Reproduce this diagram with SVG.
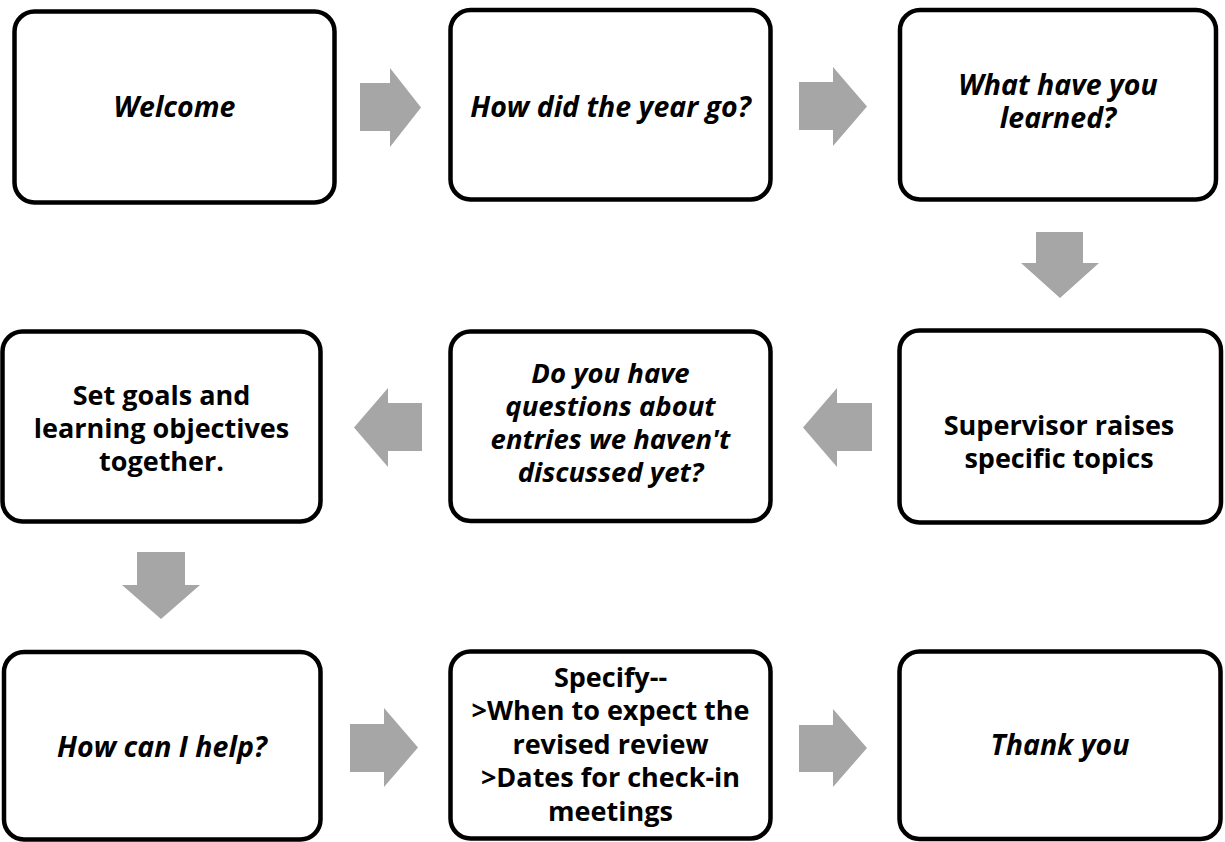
<svg xmlns="http://www.w3.org/2000/svg" width="1225" height="842" viewBox="0 0 1225 842">
  <style>
    .box { fill: #ffffff; stroke: #000000; stroke-width: 4.5; }
    .arrow { fill: #a6a6a6; stroke: none; }
    .lbl { font-family: "Open Sans", Lato, "Liberation Sans", sans-serif; font-size: 27px; font-weight: bold; fill: #000000; text-anchor: middle; }
    .q { font-style: italic; font-size: 28.5px; }
    .q.sm { font-size: 27.5px; }
  </style>
  <rect width="1225" height="842" fill="#ffffff"/>

  <!-- block arrows between steps -->
  <g id="connectors">
    <polygon class="arrow" points="360,83 390,83 390,68 421,107.5 390,147 390,131 360,131"/>
    <polygon class="arrow" points="799,82 833,82 833,67 867,106.5 833,146 833,130 799,130"/>
    <polygon class="arrow" points="1036,232 1083,232 1083,263 1099,263 1060,298 1021,263 1036,263"/>
    <polygon class="arrow" points="872,403 837,403 837,388 803,427.5 837,467 837,451 872,451"/>
    <polygon class="arrow" points="422,403 388,403 388,388 354,427.5 388,467 388,451 422,451"/>
    <polygon class="arrow" points="137,552 185,552 185,585 200,585 161,619 122,585 137,585"/>
    <polygon class="arrow" points="350,724 384,724 384,708 418,747.5 384,787 384,772 350,772"/>
    <polygon class="arrow" points="799,725 833,725 833,709 867,748 833,787 833,772 799,772"/>
  </g>

  <!-- row 1 -->
  <g id="welcome">
    <rect class="box" x="14.5" y="11.5" width="320" height="191" rx="20"/>
    <text class="lbl q" x="174.5" y="117">Welcome</text>
  </g>
  <g id="year">
    <rect class="box" x="450.5" y="10" width="320" height="189.5" rx="20"/>
    <text class="lbl q" x="610.5" y="116.5">How did the year go?</text>
  </g>
  <g id="learned">
    <rect class="box" x="900" y="10" width="316" height="189.5" rx="20"/>
    <text class="lbl q" x="1058" y="95">What have you</text>
    <text class="lbl q" x="1058" y="128">learned?</text>
  </g>

  <!-- row 2 -->
  <g id="topics">
    <rect class="box" x="899.5" y="330.5" width="321.5" height="192" rx="20"/>
    <text class="lbl" x="1059" y="435">Supervisor raises</text>
    <text class="lbl" x="1059" y="468">specific topics</text>
  </g>
  <g id="entries">
    <rect class="box" x="450.5" y="331.5" width="320" height="189.5" rx="20"/>
    <text class="lbl q sm" x="610.5" y="383">Do you have</text>
    <text class="lbl q sm" x="610.5" y="416">questions about</text>
    <text class="lbl q sm" x="610.5" y="449">entries we haven't</text>
    <text class="lbl q sm" x="610.5" y="482">discussed yet?</text>
  </g>
  <g id="goals">
    <rect class="box" x="2.5" y="331.5" width="318" height="190" rx="20"/>
    <text class="lbl" x="161.5" y="405">Set goals and</text>
    <text class="lbl" x="161.5" y="438">learning objectives</text>
    <text class="lbl" x="161.5" y="471">together.</text>
  </g>

  <!-- row 3 -->
  <g id="help">
    <rect class="box" x="4" y="652" width="316.5" height="187.5" rx="20"/>
    <text class="lbl q" x="162" y="757">How can I help?</text>
  </g>
  <g id="specify">
    <rect class="box" x="450.5" y="651.5" width="320" height="187" rx="20"/>
    <text class="lbl" x="610.5" y="687">Specify--</text>
    <text class="lbl" x="610.5" y="720">&gt;When to expect the</text>
    <text class="lbl" x="610.5" y="754">revised review</text>
    <text class="lbl" x="610.5" y="787">&gt;Dates for check-in</text>
    <text class="lbl" x="610.5" y="821">meetings</text>
  </g>
  <g id="thanks">
    <rect class="box" x="899.5" y="651.5" width="321" height="187.5" rx="20"/>
    <text class="lbl q" x="1060" y="755">Thank you</text>
  </g>
</svg>
